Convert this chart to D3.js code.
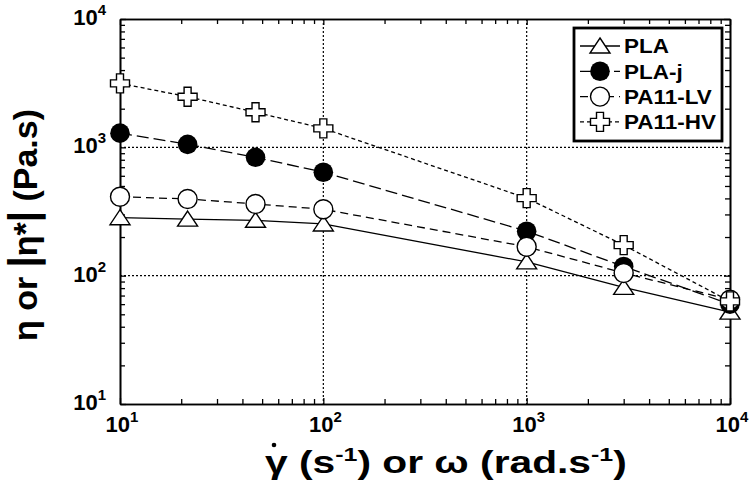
<!DOCTYPE html>
<html><head><meta charset="utf-8">
<script src="https://cdn.jsdelivr.net/npm/d3@7"></script>
<style>
body{margin:0;background:#fff}
text{font-family:"Liberation Sans",Arial,sans-serif;font-weight:bold;fill:#000}
</style>
</head><body>
<svg id="c" width="749" height="486"></svg>
<script>
// ---- data ----
const xValues = [10, 21.5, 46.4, 100, 1000, 3000, 10000];
const seriesNames = ["PLA", "PLA-j", "PA11-LV", "PA11-HV"];
const plaValues    = [283, 276, 270, 253, 128, 81, 52];
const plajValues   = [1290, 1055, 836, 640, 222, 118, 60];
const pa11lvValues = [412, 396, 362, 329, 168, 105, 65];
const pa11hvValues = [3150, 2480, 1875, 1405, 402, 173, 63];
const majorTicks = [10, 100, 1000, 10000];
const tickExponents = ["1", "2", "3", "4"];
const gridValues = [100, 1000];

const series = [
  {name: seriesNames[0], values: plaValues,    marker: "triangle", dash: null},
  {name: seriesNames[1], values: plajValues,   marker: "filled",   dash: "12,5"},
  {name: seriesNames[2], values: pa11lvValues, marker: "open",     dash: "8,5"},
  {name: seriesNames[3], values: pa11hvValues, marker: "cross",    dash: "4,3"}
];

const svg = d3.select("#c");
const L = 120, R = 730, T = 19, B = 404;
const x = d3.scaleLog().domain([10, 10000]).range([L, R]);
const y = d3.scaleLog().domain([10, 10000]).range([B, T]);

const minor = [];
for (let d = 10; d < 10000; d *= 10) for (let k = 2; k <= 9; k++) minor.push(d * k);

// horizontal stretch helper: scales a text element about its anchor so its width = target
function stretch(t, ax, ay, target) {
  const w = t.node().getBBox().width;
  const s = target / w;
  t.attr("transform", `translate(${ax},${ay}) scale(${s},1) translate(${-ax},${-ay})`);
}

// gridlines
const grid = svg.append("g").attr("stroke", "#000").attr("stroke-width", 1.2).attr("stroke-dasharray", "2,2");
gridValues.forEach(v => {
  grid.append("line").attr("x1", x(v)).attr("x2", x(v)).attr("y1", T).attr("y2", B);
  grid.append("line").attr("x1", L).attr("x2", R).attr("y1", y(v)).attr("y2", y(v));
});

function styleAxis(g) {
  g.selectAll("path").attr("stroke", "#000").attr("stroke-width", 1.6);
  g.selectAll("line").attr("stroke", "#000").attr("stroke-width", 1.3);
  g.selectAll("text").remove();
}
const axes = [
  [d3.axisBottom(x), `translate(0,${B})`],
  [d3.axisTop(x), `translate(0,${T})`],
  [d3.axisLeft(y), `translate(${L},0)`],
  [d3.axisRight(y), `translate(${R},0)`]
];
axes.forEach(([ax, tr]) => {
  svg.append("g").attr("transform", tr)
    .call(ax.tickValues(majorTicks).tickSizeInner(-6).tickSizeOuter(0)).call(styleAxis);
  svg.append("g").attr("transform", tr)
    .call(ax.tickValues(minor).tickSizeInner(-5).tickSizeOuter(0)).call(styleAxis);
});

// tick labels
majorTicks.forEach((v, i) => {
  const t = svg.append("text").attr("x", x(v) + 2).attr("y", B + 28)
    .attr("text-anchor", "middle").attr("font-size", 22);
  t.append("tspan").text("10");
  t.append("tspan").attr("dy", -10).attr("font-size", 15).text(tickExponents[i]);
  const u = svg.append("text").attr("x", 106).attr("y", y(v) + 6)
    .attr("text-anchor", "end").attr("font-size", 22);
  u.append("tspan").text("10");
  u.append("tspan").attr("dy", -10).attr("font-size", 15).text(tickExponents[i]);
});

// x axis title
const xt = svg.append("text").attr("x", 265).attr("y", 473).attr("font-size", 31);
xt.append("tspan").text("\u03B3 (s");
xt.append("tspan").attr("dy", -12).attr("font-size", 19).text("-1");
xt.append("tspan").attr("dy", 12).text(") or \u03C9 (rad.s");
xt.append("tspan").attr("dy", -12).attr("font-size", 19).text("-1");
xt.append("tspan").attr("dy", 12).text(")");
stretch(xt, 265, 473, 362);
svg.append("circle").attr("cx", 274).attr("cy", 445).attr("r", 2.3).attr("fill", "#000");

// y axis title
const yt = svg.append("text").attr("transform", "translate(37,225) rotate(-90)")
  .attr("text-anchor", "middle").attr("font-size", 34);
yt.append("tspan").text("\u03B7 or ");
yt.append("tspan").attr("font-size", 40).text("|");
yt.append("tspan").text("\u03B7*");
yt.append("tspan").attr("font-size", 40).text("|");
yt.append("tspan").text(" (Pa.s)");

// markers
function drawMarker(g, type, cx, cy) {
  if (type === "triangle") {
    g.append("path").attr("d", `M${cx},${cy - 8}L${cx + 10},${cy + 7}L${cx - 10},${cy + 7}Z`)
      .attr("fill", "#fff").attr("stroke", "#000").attr("stroke-width", 1.4);
  } else if (type === "filled") {
    g.append("circle").attr("cx", cx).attr("cy", cy).attr("r", 9.8).attr("fill", "#000");
  } else if (type === "open") {
    g.append("circle").attr("cx", cx).attr("cy", cy).attr("r", 9.5)
      .attr("fill", "#fff").attr("stroke", "#000").attr("stroke-width", 1.4);
  } else {
    const a = 9.5, w = 3.5;
    g.append("path").attr("d",
      `M${cx - w},${cy - a}H${cx + w}V${cy - w}H${cx + a}V${cy + w}H${cx + w}V${cy + a}H${cx - w}V${cy + w}H${cx - a}V${cy - w}H${cx - w}Z`)
      .attr("fill", "#fff").attr("stroke", "#000").attr("stroke-width", 1.4);
  }
}

const line = d3.line().x(d => x(d[0])).y(d => y(d[1]));
series.forEach(s => {
  const g = svg.append("g");
  const pts = xValues.map((xv, i) => [xv, s.values[i]]);
  g.append("path").attr("d", line(pts)).attr("fill", "none").attr("stroke", "#000")
    .attr("stroke-width", 1.3).attr("stroke-dasharray", s.dash);
  pts.forEach(p => drawMarker(g, s.marker, x(p[0]), y(p[1])));
});

// legend
const lg = svg.append("g");
lg.append("rect").attr("x", 574).attr("y", 28).attr("width", 148).attr("height", 113)
  .attr("fill", "#fff").attr("stroke", "#000").attr("stroke-width", 2.8);
const legendTexts = [];
series.forEach((s, i) => {
  const cy = 46 + i * 25.3;
  lg.append("line").attr("x1", 580).attr("x2", 620).attr("y1", cy).attr("y2", cy)
    .attr("stroke", "#000").attr("stroke-width", 1.3).attr("stroke-dasharray", s.dash);
  drawMarker(lg, s.marker, 600, cy);
  legendTexts.push(lg.append("text").attr("x", 624).attr("y", cy + 7.5).attr("font-size", 21).text(s.name));
});
// stretch legend texts uniformly so the longest matches the reference width
const wLong = legendTexts[3].node().getBBox().width;
const ls = 92 / wLong;
legendTexts.forEach(t => {
  const yy = +t.attr("y");
  t.attr("transform", `translate(624,${yy}) scale(${ls},1) translate(-624,${-yy})`);
});
</script>
</body></html>
